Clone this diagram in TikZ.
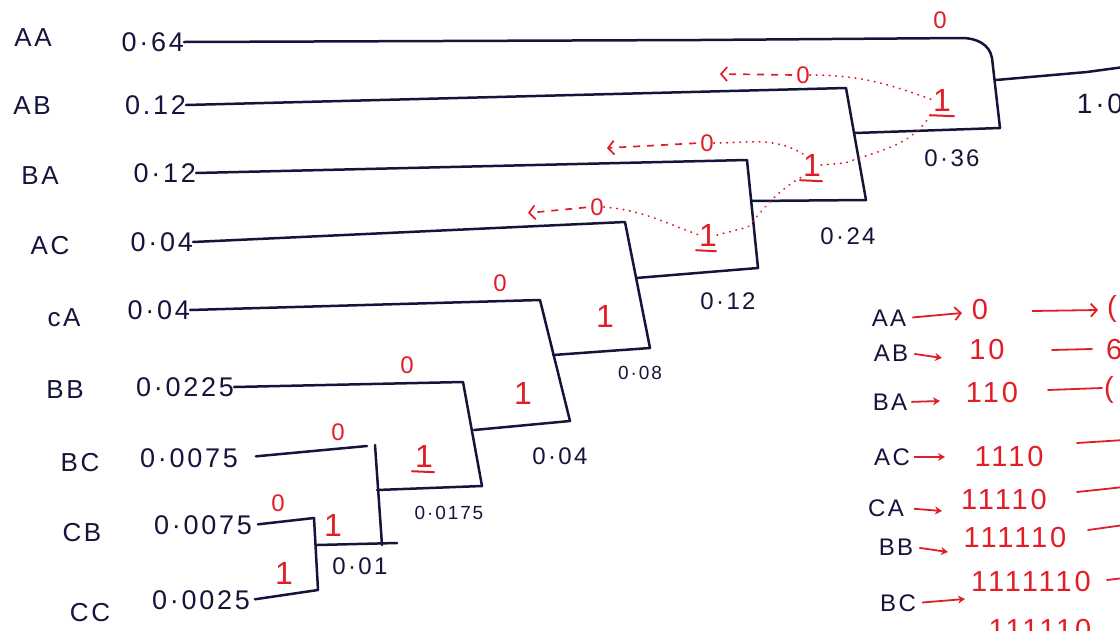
\documentclass[tikz,border=0pt]{standalone}
\usepackage{fontspec}
\setmainfont{Liberation Sans}
\newfontfamily\hand[LetterSpace=10]{Liberation Sans}
\usetikzlibrary{arrows.meta}
\definecolor{ink}{RGB}{20,20,60}
\definecolor{redink}{RGB}{225,30,40}
\begin{document}
\begin{tikzpicture}[x=1pt,y=-1pt,
  tree/.style={draw=ink,line width=2.5pt,line cap=round,line join=round},
  leaf/.style={text=ink,inner sep=0pt,font=\hand\fontsize{26}{28}\selectfont},
  val/.style={text=ink,inner sep=0pt,anchor=east,font=\hand\fontsize{27}{29}\selectfont},
  wt/.style={text=ink,inner sep=0pt,font=\hand\fontsize{24}{26}\selectfont},
  wts/.style={text=ink,inner sep=0pt,font=\hand\fontsize{19}{21}\selectfont},
  bit/.style={text=redink,inner sep=0pt,font=\hand\fontsize{32}{34}\selectfont},
  bitz/.style={text=redink,inner sep=0pt,font=\hand\fontsize{24}{26}\selectfont},
  uline/.style={draw=redink,line width=2pt,line cap=round},
  trail/.style={draw=redink,line width=1.8pt,line cap=round,dash pattern=on 0.5pt off 6pt},
  back/.style={draw=redink,line width=1.7pt,dash pattern=on 7pt off 7pt,-{Straight Barb[length=6pt,width=14pt,line width=1.7pt]}},
  cleaf/.style={text=ink,inner sep=0pt,font=\hand\fontsize{24}{26}\selectfont},
  code/.style={text=redink,inner sep=0pt,font=\hand\fontsize{29}{31}\selectfont},
  carrow/.style={draw=redink,line width=1.8pt,-{Stealth[length=7pt,width=8pt]}},
  cline/.style={draw=redink,line width=1.8pt,line cap=round}]
\fill[white] (0,0) rectangle (1120,630);
\useasboundingbox (0,0) rectangle (1120,630);
\clip (0,0) rectangle (1120,630);

% ---------- leaves ----------
\node[leaf] (nAA) at (33,38) {AA};
\node[leaf] (nAB) at (32,106) {AB};
\node[leaf] (nBA) at (40,176) {BA};
\node[leaf] (nAC) at (50,246) {AC};
\node[leaf] (nCA) at (64,318) {cA};
\node[leaf] (nBB) at (65,390) {BB};
\node[leaf] (nBC) at (80,463) {BC};
\node[leaf] (nCB) at (82,533) {CB};
\node[leaf] (nCC) at (90,613) {CC};

\node[val] (vAA) at (184,42) {0·64};
\node[val] (vAB) at (186,105) {0.12};
\node[val] (vBA) at (196,173) {0·12};
\node[val] (vAC) at (193,242) {0·04};
\node[val] (vCA) at (190,310) {0·04};
\node[val] (vBB) at (234,387) {0·0225};
\node[val] (vBC) at (238,458) {0·0075};
\node[val] (vCB) at (252,525) {0·0075};
\node[val] (vCC) at (250,600) {0·0025};

% ---------- bracket corners ----------
\coordinate (tAA) at (962,38);  \coordinate (kAA2) at (992,58);  \coordinate (bR) at (1000,128);
\coordinate (tAB) at (846,88);  \coordinate (bAB) at (866,200);
\coordinate (tBA) at (747,160); \coordinate (bBA) at (758,268);
\coordinate (tAC) at (625,222); \coordinate (bAC) at (650,348);
\coordinate (tCA) at (540,300); \coordinate (bCA) at (570,421);
\coordinate (tBB) at (463,382); \coordinate (bBB) at (482,486);
\coordinate (tBC) at (367,446); \coordinate (vBCt) at (375,445); \coordinate (bBC) at (382,545);
\coordinate (tCB) at (314,518); \coordinate (bCB) at (318,590);
% outputs
\coordinate (oR) at (996,80);   \coordinate (oRk) at (1087,72); \coordinate (oRe) at (1124,67);
\coordinate (o036) at (855,133);
\coordinate (o024) at (751,201);
\coordinate (o012) at (636,278);
\coordinate (o008) at (553,355);
\coordinate (o004) at (474,430);
\coordinate (o0175) at (377,490);
\coordinate (o001) at (317,545); \coordinate (o001e) at (397,543);

% ---------- tree lines ----------
\draw[tree] (vAA.east) -- (700,40) -- (tAA) to[out=0,in=100] (kAA2) -- (bR);
\draw[tree] (o036) -- (bR);
\draw[tree] (oR) -- (oRk) -- (oRe);
\draw[tree] (vAB.east) -- (tAB) -- (bAB);
\draw[tree] (o024) -- (bAB);
\draw[tree] (vBA.east) -- (tBA) -- (bBA);
\draw[tree] (o012) -- (bBA);
\draw[tree] (vAC.east) -- (tAC) -- (bAC);
\draw[tree] (o008) -- (bAC);
\draw[tree] (vCA.east) -- (tCA) -- (bCA);
\draw[tree] (o004) -- (bCA);
\draw[tree] (vBB.east) -- (tBB) -- (bBB);
\draw[tree] (o0175) -- (bBB);
\draw[tree,shorten <=18pt] (vBC.east) -- (tBC);
\draw[tree] (vBCt) -- (bBC);
\draw[tree] (o001) -- (o001e);
\draw[tree,shorten <=6pt] (vCB.east) -- (tCB) -- (bCB);
\draw[tree,shorten <=5pt] (vCC.east) -- (bCB);

% ---------- weights ----------
\node[wt,font=\hand\fontsize{28}{30}\selectfont] (w10) at (1100,104) {1·0};
\node[wt] (w036) at (952,158) {0·36};
\node[wt] (w024) at (848,236) {0·24};
\node[wt] (w012) at (728,301) {0·12};
\node[wts] (w008) at (640,373) {0·08};
\node[wt] (w004) at (560,456) {0·04};
\node[wts] (w0175) at (449,513) {0·0175};
\node[wt] (w001) at (360,566) {0·01};

% ---------- red bits ----------
\node[bitz] (z0AA) at (940,20) {0};
\node[bit] (b1R) at (942,100) {1};
\draw[uline] ([xshift=-12pt,yshift=-4pt]b1R.south) -- ([xshift=12pt,yshift=-5pt]b1R.south);
\node[bitz] (z0AB) at (803,75) {0};
\node[bit] (b124) at (812,165) {1};
\draw[uline] ([xshift=-12pt,yshift=-4pt]b124.south) -- ([xshift=10pt,yshift=-5pt]b124.south);
\node[bitz] (z0BA) at (707,143) {0};
\node[bit] (b112) at (708,235) {1};
\draw[uline] ([xshift=-12pt,yshift=-4pt]b112.south) -- ([xshift=8pt,yshift=-5pt]b112.south);
\node[bitz] (z0AC) at (597,207) {0};
\node[bitz] (z0CA) at (500,283) {0};
\node[bit] (b108) at (605,316) {1};
\node[bitz] (z0BB) at (407,365) {0};
\node[bit] (b104) at (523,393) {1};
\node[bitz] (z0BC) at (338,432) {0};
\node[bit] (b10175) at (424,456) {1};
\draw[uline] ([xshift=-12pt,yshift=-4pt]b10175.south) -- ([xshift=10pt,yshift=-5pt]b10175.south);
\node[bitz] (z0CB) at (278,503) {0};
\node[bit] (b101) at (333,525) {1};
\node[bit] (b1CC) at (284,573) {1};

% ---------- red trails ----------
\draw[trail] (z0AB.east) to[out=0,in=160] (b1R.west);
\draw[trail] (b124.east) -- (845,163) to[out=20,in=-120] (b1R.south west);
\draw[trail] (z0BA.east) to[out=0,in=150] (b124.north west);
\draw[trail] (b112.east) -- (748,227) to[out=50,in=-150] (b124.south west);
\draw[trail] (z0AC.east) to[out=-5,in=160] (b112.west);
\coordinate (hAB) at (720,74);
\coordinate (hBA) at (607,148);
\coordinate (hAC) at (528,213);
\draw[back,shorten <=4pt] (z0AB.west) -- (hAB);
\draw[back,shorten <=4pt] (z0BA.west) -- (hBA);
\draw[back,shorten <=4pt] (z0AC.west) -- (hAC);

% ---------- code table ----------
\node[cleaf] (kAA) at (889,318) {AA};
\node[cleaf] (kAB) at (891,353) {AB};
\node[cleaf] (kBA) at (890,402) {BA};
\node[cleaf] (kAC) at (892,457) {AC};
\node[cleaf] (kCA) at (886,508) {CA};
\node[cleaf] (kBB) at (896,547) {BB};
\node[cleaf] (kBC) at (898,603) {BC};

\node[code] (c1) at (980,310) {0};
\node[code] (c2) at (987,350) {10};
\node[code] (c3) at (992,393) {110};
\node[code] (c4) at (1009,457) {1110};
\node[code] (c5) at (1004,500) {11110};
\node[code] (c6) at (1015,538) {111110};
\node[code] (c7) at (1031,582) {1111110};
\node[code] (c8) at (1040,630) {111110};

\coordinate (a1) at (962,313);
\coordinate (a2) at (942,358);
\coordinate (a3) at (940,401);
\coordinate (a4) at (945,457);
\coordinate (a5) at (942,511);
\coordinate (a6) at (948,552);
\coordinate (a7) at (965,599);
\draw[draw=redink,line width=1.8pt,-{Straight Barb[length=6pt,width=13pt,line width=1.8pt]},shorten <=6pt] (kAA.east) -- (a1);
\draw[carrow,shorten <=6pt] (kAB.east) -- (a2);
\draw[carrow,shorten <=4pt] (kBA.east) -- (a3);
\draw[carrow,shorten <=4pt] (kAC.east) -- (a4);
\draw[carrow,shorten <=10pt] (kCA.east) -- (a5);
\draw[carrow,shorten <=6pt] (kBB.east) -- (a6);
\draw[carrow,shorten <=6pt] (kBC.east) -- (a7);

\coordinate (l1a) at (1032,311); \coordinate (l1b) at (1098,310);
\draw[draw=redink,line width=1.8pt,-{Straight Barb[length=6pt,width=13pt,line width=1.8pt]}] (l1a) -- (l1b);
\node[code,anchor=west] (x1) at (1107,309) {(};
\coordinate (l2a) at (1052,350); \coordinate (l2b) at (1092,349);
\draw[cline] (l2a) -- (l2b);
\node[code,anchor=west] (x2) at (1106,350) {6};
\coordinate (l3a) at (1048,390); \coordinate (l3b) at (1102,388);
\draw[cline] (l3a) -- (l3b);
\node[code,anchor=west] (x3) at (1104,390) {(};
\coordinate (l4a) at (1077,443); \coordinate (l4b) at (1124,440);
\draw[cline] (l4a) -- (l4b);
\coordinate (l5a) at (1077,492); \coordinate (l5b) at (1124,487);
\draw[cline] (l5a) -- (l5b);
\coordinate (l6a) at (1088,530); \coordinate (l6b) at (1124,525);
\draw[cline] (l6a) -- (l6b);
\coordinate (l7a) at (1107,580); \coordinate (l7b) at (1124,578);
\draw[cline] (l7a) -- (l7b);
\end{tikzpicture}
\end{document}
